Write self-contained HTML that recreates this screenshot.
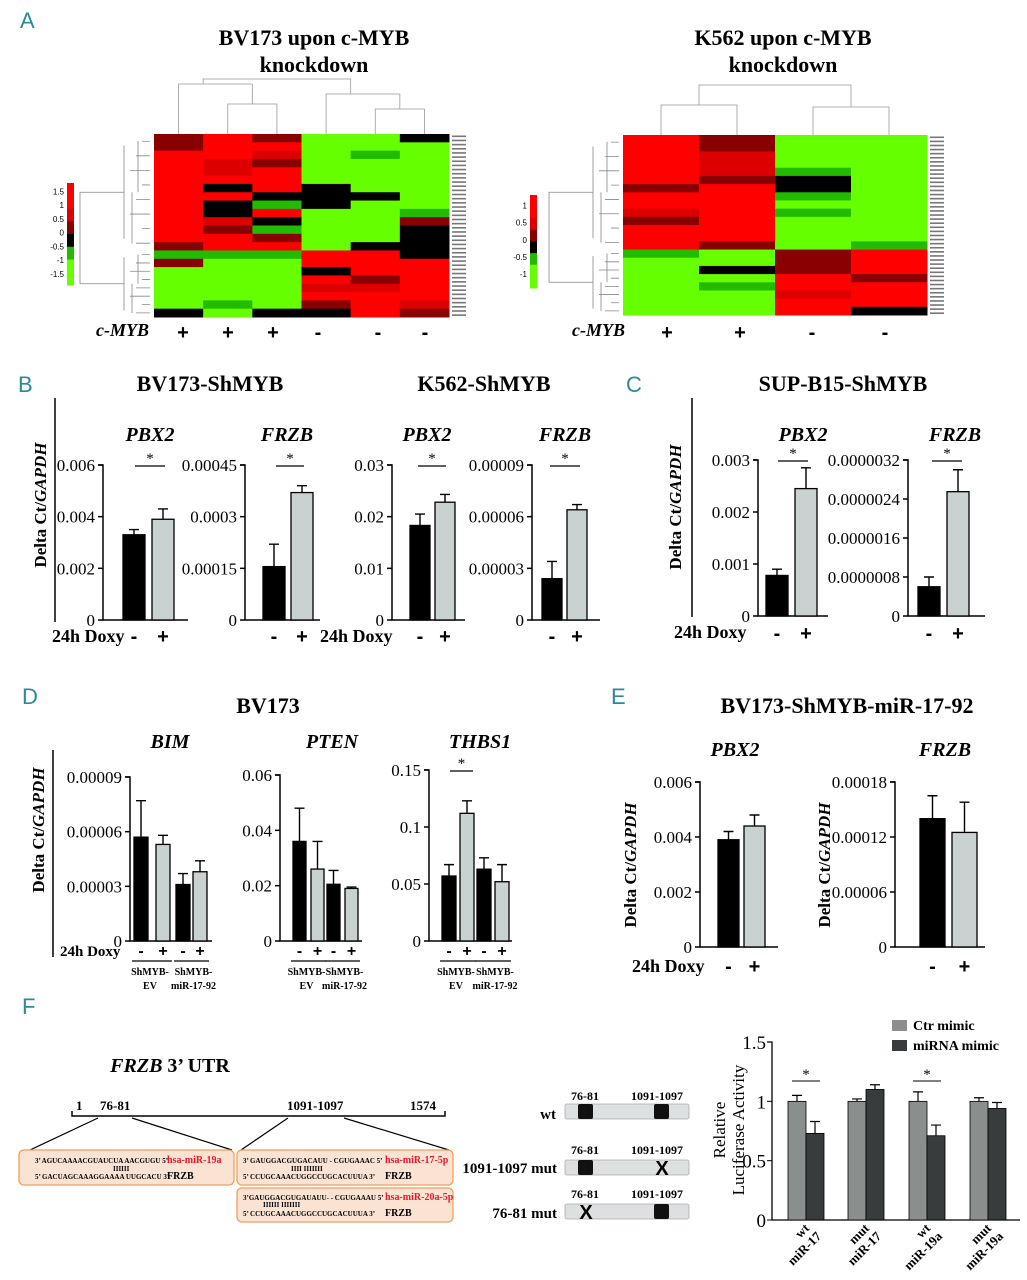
<!DOCTYPE html>
<html><head><meta charset="utf-8">
<style>
html,body{margin:0;padding:0;background:#fff;}
svg{display:block;font-family:"Liberation Serif",serif;}
.pl{font-family:"Liberation Sans",sans-serif;fill:#2b8a98;font-size:22px;}
</style></head>
<body>
<svg id="fig" width="1027" height="1280" viewBox="0 0 1027 1280" xmlns="http://www.w3.org/2000/svg">
<g id="static">
<text class="pl" x="20" y="28">A</text>
<text class="pl" x="18" y="392">B</text>
<text class="pl" x="626" y="392">C</text>
<text class="pl" x="22" y="704">D</text>
<text class="pl" x="611" y="704">E</text>
<text class="pl" x="22" y="1014">F</text>

<g font-weight="bold" font-size="22" text-anchor="middle">
<text x="314" y="45">BV173 upon c-MYB</text><text x="314" y="72">knockdown</text>
<text x="783" y="45">K562 upon c-MYB</text><text x="783" y="72">knockdown</text>
</g>
<g font-weight="bold" font-size="22" text-anchor="middle">
<text x="210" y="391">BV173-ShMYB</text>
<text x="484" y="391">K562-ShMYB</text>
<text x="843" y="391">SUP-B15-ShMYB</text>
<text x="268" y="713">BV173</text>
<text x="847" y="713">BV173-ShMYB-miR-17-92</text>
</g>
<g stroke="#000" stroke-width="1.5">
<line x1="55" y1="398" x2="55" y2="622"/>
<line x1="692" y1="398" x2="692" y2="617"/>
<line x1="53" y1="750" x2="53" y2="957"/>
</g>
<g font-weight="bold" font-size="17" text-anchor="middle">
<text transform="translate(46,505) rotate(-90)">Delta Ct/<tspan font-style="italic">GAPDH</tspan></text>
<text transform="translate(681,507) rotate(-90)">Delta Ct/<tspan font-style="italic">GAPDH</tspan></text>
<text transform="translate(44,830) rotate(-90)">Delta Ct/<tspan font-style="italic">GAPDH</tspan></text>
<text transform="translate(636,865) rotate(-90)">Delta Ct/<tspan font-style="italic">GAPDH</tspan></text>
<text transform="translate(830,865) rotate(-90)">Delta Ct/<tspan font-style="italic">GAPDH</tspan></text>
</g>
<g font-weight="bold" font-size="18">
<text x="52" y="642">24h Doxy</text>
<text x="320" y="642">24h Doxy</text>
<text x="674" y="638">24h Doxy</text>
<text x="60" y="956" font-size="15">24h Doxy</text>
<text x="632" y="972">24h Doxy</text>
</g>

<g>
<text x="170" y="1072" font-size="20" font-weight="bold" text-anchor="middle"><tspan font-style="italic">FRZB</tspan> 3’ UTR</text>
<path d="M72 1111 V1116 H445 V1111" fill="none" stroke="#000" stroke-width="1.5"/>
<g font-size="13" font-weight="bold"><text x="76" y="1110">1</text><text x="100" y="1110">76-81</text><text x="287" y="1110">1091-1097</text><text x="410" y="1110">1574</text></g>
<path d="M98 1118 L30 1150 M132 1118 L232 1150 M288 1118 L241 1150 M344 1118 L449 1150" stroke="#000" stroke-width="1.2" fill="none"/>
<rect x="19" y="1150" width="215" height="35" rx="5" fill="#fbe3d3" stroke="#f0a060" stroke-width="1.3"/>
<rect x="237" y="1150" width="216" height="35" rx="5" fill="#fbe3d3" stroke="#f0a060" stroke-width="1.3"/>
<rect x="237" y="1188" width="216" height="34" rx="5" fill="#fbe3d3" stroke="#f0a060" stroke-width="1.3"/>
<g font-size="7" font-weight="bold">
<text x="35" y="1163">3’ AGUCAAAACGUAUCUA  AACGUGU 5’</text><text x="113" y="1171">IIIIII</text><text x="35" y="1179">5’ GACUAGCAAAGGAAAA UUGCACU 3’</text>
<text x="243" y="1163">3’   GAUGGACGUGACAUU - CGUGAAAC  5’</text><text x="291" y="1171">IIII      IIIIIII</text><text x="243" y="1179">5’      CCUGCAAACUGGCCUGCACUUUA  3’</text>
<text x="243" y="1200">3’GAUGGACGUGAUAUU-  - CGUGAAAU  5’</text><text x="263" y="1207">IIIIII              IIIIIII</text><text x="243" y="1216">5’      CCUGCAAACUGGCCUGCACUUUA  3’</text>
</g>
<g font-size="10" font-weight="bold" fill="#e8192c"><text x="167" y="1163">hsa-miR-19a</text><text x="385" y="1163">hsa-miR-17-5p</text><text x="385" y="1200">hsa-miR-20a-5p</text></g>
<g font-size="10" font-weight="bold"><text x="167" y="1179">FRZB</text><text x="385" y="1179">FRZB</text><text x="385" y="1216">FRZB</text></g>
</g>
<g font-weight="bold">
<g font-size="12"><text x="571" y="1100">76-81</text><text x="631" y="1100">1091-1097</text><text x="571" y="1154">76-81</text><text x="631" y="1154">1091-1097</text><text x="571" y="1198">76-81</text><text x="631" y="1198">1091-1097</text></g>
<g font-size="15" text-anchor="end"><text x="556" y="1119">wt</text><text x="557" y="1173">1091-1097 mut</text><text x="557" y="1218">76-81 mut</text></g>
<g fill="#dde0e0" stroke="#aaa" stroke-width="0.8"><rect x="565" y="1104" width="124" height="15" rx="2"/><rect x="565" y="1160" width="124" height="15" rx="2"/><rect x="565" y="1204" width="124" height="15" rx="2"/></g>
<g fill="#111"><rect x="578" y="1104" width="15" height="15" rx="2"/><rect x="654" y="1104" width="15" height="15" rx="2"/><rect x="578" y="1160" width="15" height="15" rx="2"/><rect x="654" y="1204" width="15" height="15" rx="2"/></g>
<g font-family="Liberation Sans" font-size="20" font-weight="bold" text-anchor="middle"><text x="662" y="1175">X</text><text x="586" y="1219">X</text></g>
</g>
</g>
<g id="dyn"></g>
</svg>
<script>
const bvCol1 = [0.3,0.3,1,1,1,1,1,1,1,1,1,1,1,0.3,-0.3,0.3,-1,-1,-1,-1,-1,0];
const bvCol2 = [1,1,1,0.7,0.7,1,0,1,0,0,0.7,0.3,1,1,-0.3,-1,-1,-1,-1,-1,-0.3,-1];
const bvCol3 = [0.3,1,0.7,0.3,1,1,1,0,-0.3,1,0,-0.3,0.3,1,-0.3,-1,-1,-1,-1,-1,-1,0];
const bvCol4 = [-1,-1,-1,-1,-1,-1,0,0,0,-1,-1,-1,-1,-1,1,1,0,1,0.7,1,0.3,0];
const bvCol5 = [-1,-1,-0.3,-1,-1,-1,-1,0,-1,-1,-1,-1,-1,0,1,1,1,0.3,0.7,1,1,1];
const bvCol6 = [0,-1,-1,-1,-1,-1,-1,-1,-1,-0.3,0.3,0,0,0,0,1,1,1,1,1,0.7,0.3];
const kCol1 = [1,1,1,1,1,1,0.3,1,1,0.7,0.3,1,1,1,-0.3,-1,-1,-1,-1,-1,-1,-1];
const kCol2 = [0.3,0.3,0.7,0.7,0.7,0.3,1,1,1,1,1,1,1,0.3,-1,-1,0,-1,-0.3,-1,-1,-1];
const kCol3 = [-1,-1,-1,-1,-0.3,0,0,-0.3,-1,-0.3,-1,-1,-1,-1,0.3,0.3,0.3,1,1,0.7,1,1];
const kCol4 = [-1,-1,-1,-1,-1,-1,-1,-1,-1,-1,-1,-1,-1,-0.3,1,1,1,0.3,1,1,1,0];
const bvScaleTicks = ["1.5","1","0.5","0","-0.5","-1","-1.5"];
const kScaleTicks = ["1","0.5","0","-0.5","-1"];
const bvMyb = ["+","+","+","-","-","-"];
const kMyb = ["+","+","-","-"];

const bPbx2Ticks = ["0.006","0.004","0.002","0"];
const bPbx2Vals = [0.0033,0.0039];
const bPbx2Err = [0.0035,0.0043];
const bFrzbTicks = ["0.00045","0.0003","0.00015","0"];
const bFrzbVals = [0.000155,0.00037];
const bFrzbErr = [0.00022,0.00039];
const kPbx2Ticks = ["0.03","0.02","0.01","0"];
const kPbx2Vals = [0.0183,0.0228];
const kPbx2Err = [0.0205,0.0243];
const kFrzbTicks = ["0.00009","0.00006","0.00003","0"];
const kFrzbVals = [0.000024,0.000064];
const kFrzbErr = [0.000034,0.000067];
const cPbx2Ticks = ["0.003","0.002","0.001","0"];
const cPbx2Vals = [0.00078,0.00245];
const cPbx2Err = [0.0009,0.00285];
const cFrzbTicks = ["0.0000032","0.0000024","0.0000016","0.0000008","0"];
const cFrzbVals = [0.0000006,0.00000255];
const cFrzbErr = [0.0000008,0.000003];
const dBimTicks = ["0.00009","0.00006","0.00003","0"];
const dBimVals = [0.000057,0.000053,0.000031,0.000038];
const dBimErr = [0.000077,0.000058,0.000037,0.000044];
const dPtenTicks = ["0.06","0.04","0.02","0"];
const dPtenVals = [0.036,0.026,0.0205,0.019];
const dPtenErr = [0.048,0.036,0.0255,0.0195];
const dThbsTicks = ["0.15","0.1","0.05","0"];
const dThbsVals = [0.057,0.112,0.063,0.052];
const dThbsErr = [0.067,0.123,0.073,0.067];
const ePbx2Ticks = ["0.006","0.004","0.002","0"];
const ePbx2Vals = [0.0039,0.0044];
const ePbx2Err = [0.0042,0.0048];
const eFrzbTicks = ["0.00018","0.00012","0.00006","0"];
const eFrzbVals = [0.00014,0.000125];
const eFrzbErr = [0.000165,0.000158];
const lucCategories = [["wt","miR-17"],["mut","miR-17"],["wt","miR-19a"],["mut","miR-19a"]];
const lucCtr = [1.0,1.0,1.0,1.0];
const lucCtrErr = [1.05,1.02,1.08,1.03];
const lucMir = [0.73,1.1,0.71,0.94];
const lucMirErr = [0.83,1.14,0.80,0.99];
const lucTicks = ["1.5","1","0.5","0"];
const lucSeries = ["Ctr mimic","miRNA mimic"];

const NS="http://www.w3.org/2000/svg";
const root=document.getElementById('dyn');
function mk(tag,attrs,parent,text){const e=document.createElementNS(NS,tag);for(const k in attrs)e.setAttribute(k,attrs[k]);if(text!==undefined)e.textContent=text;(parent||root).appendChild(e);return e;}
function hcol(v){if(v>=0.9)return"#ff0000";if(v>=0.5)return"#dd0000";if(v>=0.2)return"#880000";if(v>-0.2)return"#000000";if(v>-0.5)return"#22bb00";return"#66ff00";}

function heatmap(name,cols,x0,x1,y0,y1,scale,sx,sy0,sy1,myb,mybX,mybPos,mybY){
  const g=mk('g',{});
  
  
  const cw=(x1-x0)/cols.length, n=cols[0].length, rh=(y1-y0)/n;
  cols.forEach((c,i)=>c.forEach((v,j)=>{
    const r=mk('rect',{x:x0+i*cw,y:y0+j*rh,width:cw+0.5,height:rh+0.5,fill:hcol(v)},g);
    
    
  }));
  for(let j=0;j<n*2;j++){mk('rect',{x:x1+3,y:y0+j*(y1-y0)/(n*2)+1.5,width:14,height:1.6,fill:'#777'},g);}
  const dx=x0-4, split=y0+(y1-y0)*14/22;
  const lines=[];
  const top=[y0,split], bot=[split,y1];
  [top,bot].forEach(([a,b])=>{
    for(let k=0;k<8;k++){const ya=a+(b-a)*(k+0.5)/8; const xl=dx-8-(k%3)*6; lines.push(`M${dx} ${ya} H${xl}`);}
    const m=(a+b)/2; lines.push(`M${dx-26} ${a+(b-a)*0.1} V${a+(b-a)*0.9} M${dx-26} ${m} H${dx-40}`);
    lines.push(`M${dx-12} ${a+(b-a)*0.06} V${a+(b-a)*0.5} M${dx-18} ${a+(b-a)*0.5} V${a+(b-a)*0.94}`);
  });
  const ma=(y0+split)/2, mb=(split+y1)/2;
  lines.push(`M${dx-40} ${ma} H${dx-70} V${mb} H${dx-40}`);
  mk('path',{d:lines.join(' '),stroke:'#888','stroke-width':0.8,fill:'none'},g);
  const cx=i=>x0+(i+0.5)*cw; const h=cols.length===6;
  let d;
  if(h){d=`M${cx(0)} ${y0} V${y0-50} H${(cx(1)+cx(2))/2} M${cx(1)} ${y0} V${y0-30} H${cx(2)} V${y0} M${(cx(1)+cx(2))/2} ${y0-30} V${y0-50} M${cx(3)} ${y0} V${y0-40} H${(cx(4)+cx(5))/2} M${cx(4)} ${y0} V${y0-25} H${cx(5)} V${y0} M${(cx(4)+cx(5))/2} ${y0-25} V${y0-40} M${(cx(0)+cx(1))/2} ${y0-50} V${y0-55} H${(cx(3)+cx(4))/2} V${y0-40}`;}
  else{d=`M${cx(0)} ${y0} V${y0-30} H${cx(1)} V${y0} M${cx(2)} ${y0} V${y0-28} H${cx(3)} V${y0} M${(cx(0)+cx(1))/2} ${y0-30} V${y0-50} H${(cx(2)+cx(3))/2} V${y0-28}`;}
  mk('path',{d,stroke:'#999','stroke-width':0.8,fill:'none'},g);
  const grad=['#ff0000','#ff0000','#dd0000','#880000','#000000','#22bb00','#66ff00','#66ff00'];
  const sh=(sy1-sy0)/grad.length;
  grad.forEach((c,k)=>mk('rect',{x:sx,y:sy0+k*sh,width:7,height:sh+0.5,fill:c},g));
  scale.forEach((t,k)=>{mk('text',{x:sx-3,y:sy0+(sy1-sy0)*(k+0.6)/(scale.length+0.4)+3,'font-size':8,'text-anchor':'end','font-family':'Liberation Sans'},g,t);});
  const ml=mk('text',{x:mybX,y:mybY,'font-size':18,'font-weight':'bold','font-style':'italic'},g,'c-MYB');
  
  myb.forEach((s,i)=>mk('text',{x:mybPos[i],y:mybY+3,'font-size':20,'font-weight':'bold','text-anchor':'middle','font-family':'Liberation Sans'},g,s));
}
heatmap('heatmap-bv173',[bvCol1,bvCol2,bvCol3,bvCol4,bvCol5,bvCol6],154,449,134,317,bvScaleTicks,67,183,285,bvMyb,96,[183,228,273,318,378,425],336);
heatmap('heatmap-k562',[kCol1,kCol2,kCol3,kCol4],623,927,135,315,kScaleTicks,530,195,288,kMyb,572,[667,740,812,885],336);

function bars(o){
  const g=mk('g',{});
  
  
  const max=parseFloat(o.ticks[0]);
  const y=v=>o.y0-(v/max)*(o.y0-o.yTop);
  mk('path',{d:`M${o.ax-5} ${o.yTop} H${o.ax} V${o.y0} H${o.xEnd}`,stroke:'#000','stroke-width':1.5,fill:'none'},g);
  o.ticks.forEach((t)=>{const v=parseFloat(t);const yy=y(v);
    mk('line',{x1:o.ax-5,y1:yy,x2:o.ax,y2:yy,stroke:'#000','stroke-width':1.5},g);
    const tl=mk('text',{x:o.ax-8,y:yy+6,'font-size':o.fs||17,'text-anchor':'end'},g,t);
    
  });
  const lt=mk('text',{x:o.lx,y:o.ly,'font-size':20,'font-weight':'bold','font-style':'italic','text-anchor':'middle'},g,o.label);
  
  o.vals.forEach((v,i)=>{
    const x=o.bx[i], w=o.bw, top=y(v), et=y(o.err[i]);
    const b=mk('rect',{x:x,y:top,width:w,height:o.y0-top,fill:i%2?'#c9d1d1':'#000',stroke:'#000','stroke-width':1.3},g);
    
    
    mk('path',{d:`M${x+w/2} ${top} V${et} M${x+w/2-5} ${et} H${x+w/2+5}`,stroke:'#000','stroke-width':1.4,fill:'none'},g);
  });
  if(o.sig){const[a,b2,yy]=o.sig;mk('line',{x1:a,y1:yy,x2:b2,y2:yy,stroke:'#000','stroke-width':1.2},g);mk('text',{x:(a+b2)/2,y:yy-3,'font-size':15,'text-anchor':'middle'},g,'*');}
  if(o.signs){o.signs.forEach((s,i)=>mk('text',{x:o.bx[i]+o.bw/2,y:o.signY,'font-size':o.signFs||20,'font-weight':'bold','text-anchor':'middle','font-family':'Liberation Sans'},g,i%2?'+':'-'));}
  if(o.groups){
    for(let k=0;k<o.vals.length;k+=2){const a=o.bx[k]-2,b2=o.bx[k+1]+o.bw+2;
      mk('line',{x1:a,y1:o.signY+5,x2:b2,y2:o.signY+5,stroke:'#000','stroke-width':1.2},g);
      const gl=o.groups[k/2];
      mk('text',{x:(a+b2)/2+(k?2:-2),y:o.signY+19,'font-size':10,'font-weight':'bold','text-anchor':'middle'},g,gl[0]);
      mk('text',{x:(a+b2)/2+(k?2:-2),y:o.signY+33,'font-size':10,'font-weight':'bold','text-anchor':'middle'},g,gl[1]);}
  }
  return g;
}
const sg2=[0,1];
bars({name:'chart-bv173-pbx2',ticks:bPbx2Ticks,vals:bPbx2Vals,err:bPbx2Err,ax:103,yTop:465,y0:620,xEnd:188,bx:[123,152],bw:22,label:'PBX2',lx:150,ly:441,sig:[135,165,466],signs:sg2,signY:643});
bars({name:'chart-bv173-frzb',ticks:bFrzbTicks,vals:bFrzbVals,err:bFrzbErr,ax:245,yTop:465,y0:620,xEnd:320,bx:[263,291],bw:22,label:'FRZB',lx:287,ly:441,sig:[276,304,466],signs:sg2,signY:643});
bars({name:'chart-k562-pbx2',ticks:kPbx2Ticks,vals:kPbx2Vals,err:kPbx2Err,ax:392,yTop:465,y0:620,xEnd:465,bx:[410,435],bw:20,label:'PBX2',lx:427,ly:441,sig:[418,446,466],signs:sg2,signY:643});
bars({name:'chart-k562-frzb',ticks:kFrzbTicks,vals:kFrzbVals,err:kFrzbErr,ax:532,yTop:465,y0:620,xEnd:600,bx:[542,567],bw:20,label:'FRZB',lx:565,ly:441,sig:[550,580,466],signs:sg2,signY:643});
bars({name:'chart-supb15-pbx2',ticks:cPbx2Ticks,vals:cPbx2Vals,err:cPbx2Err,ax:758,yTop:460,y0:616,xEnd:828,bx:[766,795],bw:22,label:'PBX2',lx:803,ly:441,sig:[778,808,461],signs:sg2,signY:640});
bars({name:'chart-supb15-frzb',ticks:cFrzbTicks,vals:cFrzbVals,err:cFrzbErr,ax:908,yTop:460,y0:616,xEnd:985,bx:[918,947],bw:22,label:'FRZB',lx:955,ly:441,sig:[932,962,461],signs:sg2,signY:640});
const grpLabels=[["ShMYB-","EV"],["ShMYB-","miR-17-92"]];
const sg4=[0,1,0,1];
bars({name:'chart-bv173-bim',ticks:dBimTicks,vals:dBimVals,err:dBimErr,ax:130,yTop:777,y0:941,xEnd:212,bx:[134,156,176,193],bw:14,label:'BIM',lx:170,ly:748,signs:sg4,signY:956,signFs:16,groups:grpLabels});
bars({name:'chart-bv173-pten',ticks:dPtenTicks,vals:dPtenVals,err:dPtenErr,ax:280,yTop:775,y0:941,xEnd:362,bx:[293,311,327,345],bw:13,label:'PTEN',lx:332,ly:748,signs:sg4,signY:956,signFs:16,groups:grpLabels});
bars({name:'chart-bv173-thbs1',ticks:dThbsTicks,vals:dThbsVals,err:dThbsErr,ax:429,yTop:770,y0:941,xEnd:512,bx:[442,460,477,495],bw:14,label:'THBS1',lx:480,ly:748,sig:[450,473,771],signs:sg4,signY:956,signFs:16,groups:grpLabels});
bars({name:'chart-e-pbx2',ticks:ePbx2Ticks,vals:ePbx2Vals,err:ePbx2Err,ax:700,yTop:782,y0:947,xEnd:778,bx:[718,744],bw:21,label:'PBX2',lx:735,ly:756,signs:sg2,signY:973});
bars({name:'chart-e-frzb',ticks:eFrzbTicks,vals:eFrzbVals,err:eFrzbErr,ax:895,yTop:782,y0:947,xEnd:985,bx:[920,952],bw:25,label:'FRZB',lx:945,ly:756,signs:sg2,signY:973});

(function(){
  const g=mk('g',{});
  
  
  const ax=772,yTop=1042,y0=1220,max=1.5,xEnd=1020;
  const y=v=>y0-(v/max)*(y0-yTop);
  mk('path',{d:`M${ax-5} ${yTop} H${ax} V${y0} H${xEnd}`,stroke:'#000','stroke-width':1.3,fill:'none'},g);
  lucTicks.forEach(t=>{const yy=y(parseFloat(t));mk('line',{x1:ax-5,y1:yy,x2:ax,y2:yy,stroke:'#000'},g);
    const tl=mk('text',{x:ax-6,y:yy+7,'font-size':19,'text-anchor':'end'},g,t);});
  mk('text',{transform:'translate(725,1130) rotate(-90)','font-size':17,'text-anchor':'middle'},g,'Relative');
  mk('text',{transform:'translate(744,1130) rotate(-90)','font-size':17,'text-anchor':'middle'},g,'Luciferase Activity');
  const cxs=[806,866,927,988], bw=18;
  lucCategories.forEach((c,i)=>{
    [[lucCtr,lucCtrErr,'#8a8f8e',-bw],[lucMir,lucMirErr,'#383c3c',0]].forEach(([v,e,col,off])=>{
      const x=cxs[i]+off, top=y(v[i]), et=y(e[i]);
      const b=mk('rect',{x,y:top,width:bw,height:y0-top,fill:col,stroke:'#000','stroke-width':0.8},g);
      
      
      mk('path',{d:`M${x+bw/2} ${top} V${et} M${x+bw/2-5} ${et} H${x+bw/2+5}`,stroke:'#000','stroke-width':1.2,fill:'none'},g);
    });
    const lx=cxs[i];
    mk('text',{transform:`translate(${lx+4},1229) rotate(-45)`,'font-size':13,'font-weight':'bold','text-anchor':'end'},g,c[0]);
    mk('text',{transform:`translate(${lx+16},1237) rotate(-45)`,'font-size':13,'font-weight':'bold','text-anchor':'end'},g,c[1]);
  });
  [0,2].forEach(i=>{const a=cxs[i]-14,b2=cxs[i]+14;mk('line',{x1:a,y1:1081,x2:b2,y2:1081,stroke:'#000'},g);mk('text',{x:cxs[i],y:1079,'font-size':15,'text-anchor':'middle'},g,'*');});
  lucSeries.forEach((s,k)=>{
    const le=mk('g',{},g);
    
    
    mk('rect',{x:892,y:1020+k*20,width:15,height:11,fill:k?'#383c3c':'#8a8f8e'},le);
    mk('text',{x:913,y:1030+k*20,'font-size':14,'font-weight':'bold'},le,s);
  });
})();
</script>
</body></html>
